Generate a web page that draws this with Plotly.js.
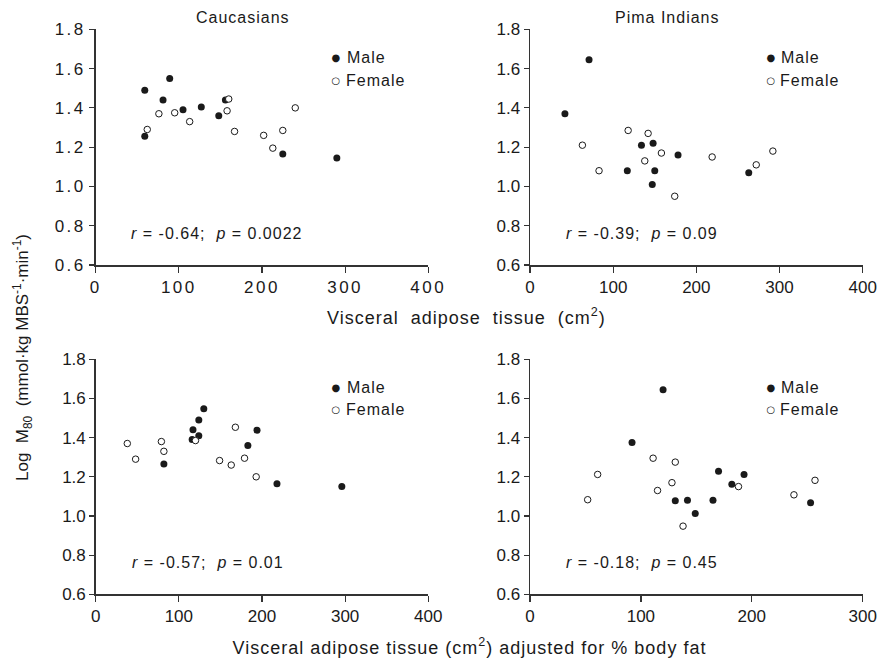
<!DOCTYPE html>
<html>
<head>
<meta charset="utf-8">
<script src="https://cdn.plot.ly/plotly-3.0.1.min.js"></script>
<style>
html,body{margin:0;padding:0;background:#fff;}
#chart{width:883px;height:661px;}
#chart .xtick text, #chart .ytick text{letter-spacing:2.5px;}
#chart .annotation-text{letter-spacing:1px;}
</style>
</head>
<body>
<div id="chart"></div>
<script>
// ---- Data ----
// Panel A: Caucasians, visceral adipose tissue
const cauMaleX   = [59, 89, 81, 105, 127, 148, 156, 59, 225, 290];
const cauMaleY   = [1.49, 1.55, 1.44, 1.39, 1.405, 1.36, 1.44, 1.255, 1.165, 1.145];
const cauFemaleX = [62, 76, 95, 113, 160, 158, 167, 202, 213, 225, 240];
const cauFemaleY = [1.29, 1.37, 1.375, 1.33, 1.445, 1.385, 1.28, 1.26, 1.195, 1.285, 1.40];
// Panel B: Pima Indians, visceral adipose tissue
const pimaMaleX   = [71, 42, 134, 148, 178, 117, 150, 147, 263];
const pimaMaleY   = [1.645, 1.37, 1.21, 1.22, 1.16, 1.08, 1.08, 1.01, 1.07];
const pimaFemaleX = [63, 83, 118, 142, 138, 158, 174, 219, 272, 292];
const pimaFemaleY = [1.21, 1.08, 1.285, 1.27, 1.13, 1.17, 0.95, 1.15, 1.11, 1.18];
// Panel C: Caucasians, adjusted for % body fat
const cauAdjMaleX   = [130, 124, 117, 116, 124, 194, 183, 82, 218, 296];
const cauAdjMaleY   = [1.548, 1.49, 1.44, 1.39, 1.41, 1.438, 1.36, 1.265, 1.165, 1.15];
const cauAdjFemaleX = [38, 48, 79, 82, 120, 168, 149, 163, 179, 193];
const cauAdjFemaleY = [1.37, 1.29, 1.38, 1.33, 1.385, 1.453, 1.283, 1.26, 1.295, 1.20];
// Panel D: Pima Indians, adjusted for % body fat
const pimaAdjMaleX   = [120, 92, 170, 193, 182, 131, 142, 165, 149, 253];
const pimaAdjMaleY   = [1.645, 1.375, 1.228, 1.212, 1.162, 1.078, 1.08, 1.08, 1.012, 1.068];
const pimaAdjFemaleX = [52, 61, 111, 131, 115, 128, 138, 188, 238, 257];
const pimaAdjFemaleY = [1.083, 1.212, 1.295, 1.275, 1.13, 1.17, 0.948, 1.15, 1.108, 1.182];

const panelTitles = ["Caucasians", "Pima Indians"];
const statsText = ["<i>r</i> = -0.64;  <i>p</i> = 0.0022", "<i>r</i> = -0.39;  <i>p</i> = 0.09",
                   "<i>r</i> = -0.57;  <i>p</i> = 0.01",   "<i>r</i> = -0.18;  <i>p</i> = 0.45"];
const xTitleTop = "Visceral  adipose  tissue  (cm<sup>2</sup>)";
const xTitleBottom = "Visceral adipose tissue (cm<sup>2</sup>) adjusted for % body fat";
const yTitle = "Log  M<sub>80</sub>  (mmol·kg MBS<sup>-1</sup>·min<sup>-1</sup>)";
const yTickVals = [0.6, 0.8, 1.0, 1.2, 1.4, 1.6, 1.8];
const yTickText = ["0.6", "0.8", "1.0", "1.2", "1.4", "1.6", "1.8"];

// ---- Layout helpers ----
const W = 883, H = 661;
const px = v => v / W;
const py = v => (H - v) / H;
const FONT = "Liberation Sans, Arial, Helvetica, sans-serif";
const INK = "#1a1a1a";

function maleTrace(x, y, xa, ya) {
  return {x, y, xaxis: xa, yaxis: ya, type: "scatter", mode: "markers", showlegend: false,
          cliponaxis: false, hoverinfo: "skip",
          marker: {symbol: "circle", size: 7, color: INK, line: {width: 0}}};
}
function femaleTrace(x, y, xa, ya) {
  return {x, y, xaxis: xa, yaxis: ya, type: "scatter", mode: "markers", showlegend: false,
          cliponaxis: false, hoverinfo: "skip",
          marker: {symbol: "circle", size: 6.5, color: "#ffffff", line: {width: 1, color: INK}}};
}

const data = [
  maleTrace(cauMaleX, cauMaleY, "x", "y"), femaleTrace(cauFemaleX, cauFemaleY, "x", "y"),
  maleTrace(pimaMaleX, pimaMaleY, "x2", "y2"), femaleTrace(pimaFemaleX, pimaFemaleY, "x2", "y2"),
  maleTrace(cauAdjMaleX, cauAdjMaleY, "x3", "y3"), femaleTrace(cauAdjFemaleX, cauAdjFemaleY, "x3", "y3"),
  maleTrace(pimaAdjMaleX, pimaAdjMaleY, "x4", "y4"), femaleTrace(pimaAdjFemaleX, pimaAdjFemaleY, "x4", "y4")
];

function xAxis(domain, range, dtick, anchor) {
  return {domain, range, dtick, tick0: 0, anchor, showgrid: false, zeroline: false,
          showline: true, linecolor: "#333", linewidth: 1.5, mirror: false,
          ticks: "outside", ticklen: 6, tickwidth: 1.2, tickcolor: "#333",
          tickfont: {family: FONT, size: 17, color: INK}, fixedrange: true};
}
function yAxis(domain, anchor) {
  return {domain, range: [0.6, 1.8], tickvals: yTickVals, ticktext: yTickText, anchor,
          showgrid: false, zeroline: false, showline: true, linecolor: "#333", linewidth: 1.5,
          ticks: "outside", ticklen: 5, tickwidth: 1.2, tickcolor: "#333",
          tickfont: {family: FONT, size: 17, color: INK}, fixedrange: true};
}

const leftDom = [px(95.7), px(428.3)];
const rightDom = [px(530), px(862.7)];
const topDom = [py(265), py(29.3)];
const botDom = [py(594.3), py(359.3)];

const annotations = [];
function ann(text, x, y, opts) {
  annotations.push(Object.assign({text, x, y, xref: "paper", yref: "paper", showarrow: false,
    xanchor: "left", yanchor: "middle", font: {family: FONT, size: 16, color: INK}}, opts || {}));
}
// panel titles
ann(panelTitles[0], px(243), py(17), {xanchor: "center"});
ann(panelTitles[1], px(667), py(17), {xanchor: "center"});
// legends
const legPos = [[336.7, 57.3, 81], [771, 57.3, 81], [336.7, 387.7, 409.5], [771, 387.7, 409.5]];
legPos.forEach(p => {
  ann("●", px(p[0]), py(p[1]), {xanchor: "center", font: {family: "DejaVu Sans", size: 10, color: INK}});
  ann("○", px(p[0]), py(p[2]), {xanchor: "center", font: {family: "DejaVu Sans", size: 10, color: INK}});
  ann("Male", px(p[0] + 10), py(p[1]));
  ann("Female", px(p[0] + 10), py(p[2]));
});
// stats
const statPos = [[140, 233.3], [574, 233.3], [140, 562.7], [574, 562.7]];
statPos.forEach((p, i) => ann(statsText[i], px(p[0]), py(p[1])));
// axis titles
ann(xTitleTop, px(466), py(316), {xanchor: "center", font: {family: FONT, size: 18, color: INK}});
ann(xTitleBottom, px(470), py(646), {xanchor: "center", font: {family: FONT, size: 18, color: INK}});
ann(yTitle, px(22), py(358), {xanchor: "center", textangle: -90, font: {family: FONT, size: 17, color: INK}});

const layout = {
  width: W, height: H, margin: {l: 0, r: 0, t: 0, b: 0},
  paper_bgcolor: "#ffffff", plot_bgcolor: "#ffffff", showlegend: false,
  xaxis: xAxis(leftDom, [0, 400], 100, "y"),
  yaxis: yAxis(topDom, "x"),
  xaxis2: xAxis(rightDom, [0, 400], 100, "y2"),
  yaxis2: yAxis(topDom, "x2"),
  xaxis3: xAxis(leftDom, [0, 400], 100, "y3"),
  yaxis3: yAxis(botDom, "x3"),
  xaxis4: xAxis(rightDom, [0, 300], 100, "y4"),
  yaxis4: yAxis(botDom, "x4"),
  annotations
};

Plotly.newPlot("chart", data, layout, {staticPlot: true, displayModeBar: false}).then(gd => {
  // the rotated y title keeps normal letter spacing
  gd.querySelectorAll(".annotation-text").forEach(t => {
    if (t.textContent.indexOf("Log") === 0) t.style.letterSpacing = "0px";
  });
});
</script>
</body>
</html>
